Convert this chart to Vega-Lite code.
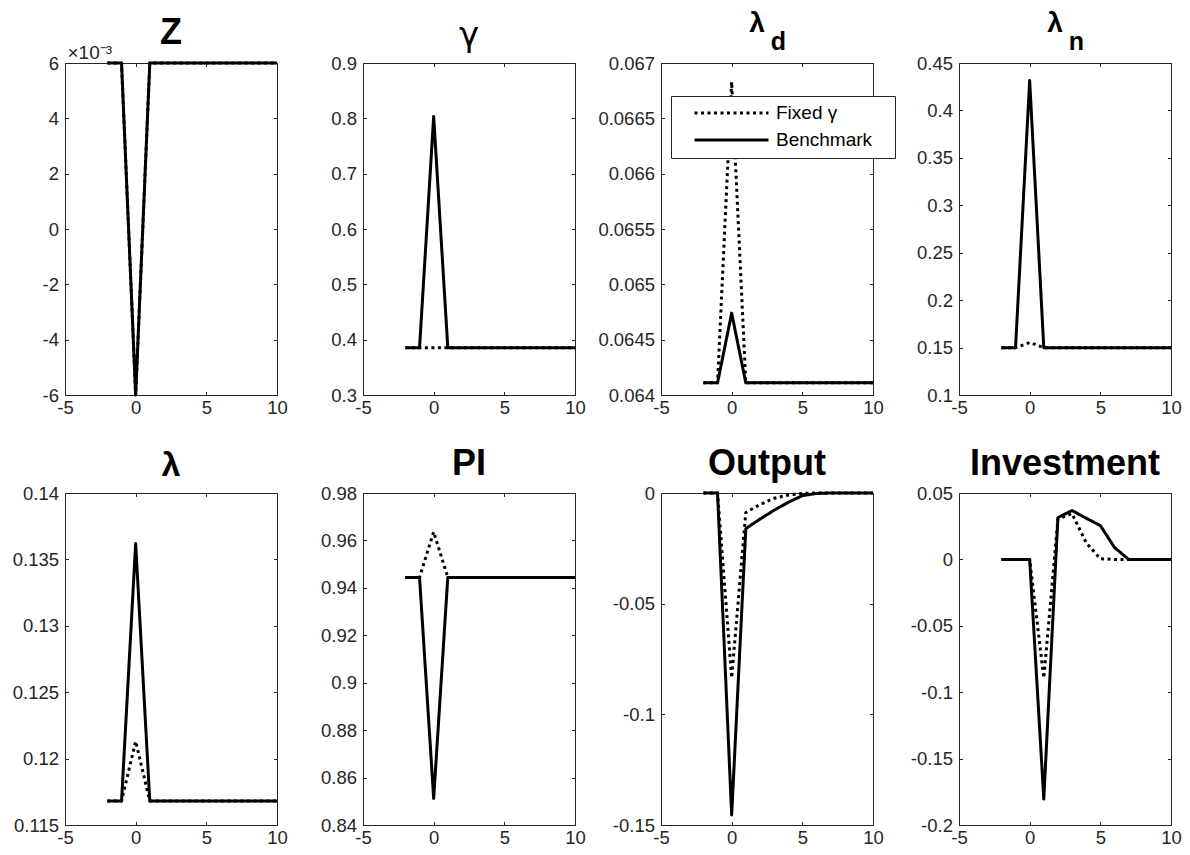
{
  "$schema": "https://vega.github.io/schema/vega-lite/v6.json",
  "padding": {"left": 0, "top": 9, "right": 0, "bottom": 0},
  "datasets": {
    "irf": [
      {"p":"Z","s":"Fixed γ","t":-2,"v":0.006},{"p":"Z","s":"Fixed γ","t":-1,"v":0.006},{"p":"Z","s":"Fixed γ","t":0,"v":-0.006},{"p":"Z","s":"Fixed γ","t":1,"v":0.006},{"p":"Z","s":"Fixed γ","t":2,"v":0.006},{"p":"Z","s":"Fixed γ","t":3,"v":0.006},{"p":"Z","s":"Fixed γ","t":4,"v":0.006},{"p":"Z","s":"Fixed γ","t":5,"v":0.006},{"p":"Z","s":"Fixed γ","t":6,"v":0.006},{"p":"Z","s":"Fixed γ","t":7,"v":0.006},{"p":"Z","s":"Fixed γ","t":8,"v":0.006},{"p":"Z","s":"Fixed γ","t":9,"v":0.006},{"p":"Z","s":"Fixed γ","t":10,"v":0.006},
      {"p":"Z","s":"Benchmark","t":-2,"v":0.006},{"p":"Z","s":"Benchmark","t":-1,"v":0.006},{"p":"Z","s":"Benchmark","t":0,"v":-0.006},{"p":"Z","s":"Benchmark","t":1,"v":0.006},{"p":"Z","s":"Benchmark","t":2,"v":0.006},{"p":"Z","s":"Benchmark","t":3,"v":0.006},{"p":"Z","s":"Benchmark","t":4,"v":0.006},{"p":"Z","s":"Benchmark","t":5,"v":0.006},{"p":"Z","s":"Benchmark","t":6,"v":0.006},{"p":"Z","s":"Benchmark","t":7,"v":0.006},{"p":"Z","s":"Benchmark","t":8,"v":0.006},{"p":"Z","s":"Benchmark","t":9,"v":0.006},{"p":"Z","s":"Benchmark","t":10,"v":0.006},
      {"p":"gamma","s":"Fixed γ","t":-2,"v":0.3855},{"p":"gamma","s":"Fixed γ","t":-1,"v":0.3855},{"p":"gamma","s":"Fixed γ","t":0,"v":0.3855},{"p":"gamma","s":"Fixed γ","t":1,"v":0.3855},{"p":"gamma","s":"Fixed γ","t":2,"v":0.3855},{"p":"gamma","s":"Fixed γ","t":3,"v":0.3855},{"p":"gamma","s":"Fixed γ","t":4,"v":0.3855},{"p":"gamma","s":"Fixed γ","t":5,"v":0.3855},{"p":"gamma","s":"Fixed γ","t":6,"v":0.3855},{"p":"gamma","s":"Fixed γ","t":7,"v":0.3855},{"p":"gamma","s":"Fixed γ","t":8,"v":0.3855},{"p":"gamma","s":"Fixed γ","t":9,"v":0.3855},{"p":"gamma","s":"Fixed γ","t":10,"v":0.3855},
      {"p":"gamma","s":"Benchmark","t":-2,"v":0.3855},{"p":"gamma","s":"Benchmark","t":-1,"v":0.3855},{"p":"gamma","s":"Benchmark","t":0,"v":0.8035},{"p":"gamma","s":"Benchmark","t":1,"v":0.3855},{"p":"gamma","s":"Benchmark","t":2,"v":0.3855},{"p":"gamma","s":"Benchmark","t":3,"v":0.3855},{"p":"gamma","s":"Benchmark","t":4,"v":0.3855},{"p":"gamma","s":"Benchmark","t":5,"v":0.3855},{"p":"gamma","s":"Benchmark","t":6,"v":0.3855},{"p":"gamma","s":"Benchmark","t":7,"v":0.3855},{"p":"gamma","s":"Benchmark","t":8,"v":0.3855},{"p":"gamma","s":"Benchmark","t":9,"v":0.3855},{"p":"gamma","s":"Benchmark","t":10,"v":0.3855},
      {"p":"ld","s":"Fixed γ","t":-2,"v":0.06411},{"p":"ld","s":"Fixed γ","t":-1,"v":0.06411},{"p":"ld","s":"Fixed γ","t":0,"v":0.06683},{"p":"ld","s":"Fixed γ","t":1,"v":0.06411},{"p":"ld","s":"Fixed γ","t":2,"v":0.06411},{"p":"ld","s":"Fixed γ","t":3,"v":0.06411},{"p":"ld","s":"Fixed γ","t":4,"v":0.06411},{"p":"ld","s":"Fixed γ","t":5,"v":0.06411},{"p":"ld","s":"Fixed γ","t":6,"v":0.06411},{"p":"ld","s":"Fixed γ","t":7,"v":0.06411},{"p":"ld","s":"Fixed γ","t":8,"v":0.06411},{"p":"ld","s":"Fixed γ","t":9,"v":0.06411},{"p":"ld","s":"Fixed γ","t":10,"v":0.06411},
      {"p":"ld","s":"Benchmark","t":-2,"v":0.06411},{"p":"ld","s":"Benchmark","t":-1,"v":0.06411},{"p":"ld","s":"Benchmark","t":0,"v":0.06474},{"p":"ld","s":"Benchmark","t":1,"v":0.06411},{"p":"ld","s":"Benchmark","t":2,"v":0.06411},{"p":"ld","s":"Benchmark","t":3,"v":0.06411},{"p":"ld","s":"Benchmark","t":4,"v":0.06411},{"p":"ld","s":"Benchmark","t":5,"v":0.06411},{"p":"ld","s":"Benchmark","t":6,"v":0.06411},{"p":"ld","s":"Benchmark","t":7,"v":0.06411},{"p":"ld","s":"Benchmark","t":8,"v":0.06411},{"p":"ld","s":"Benchmark","t":9,"v":0.06411},{"p":"ld","s":"Benchmark","t":10,"v":0.06411},
      {"p":"ln","s":"Fixed γ","t":-2,"v":0.1499},{"p":"ln","s":"Fixed γ","t":-1,"v":0.1499},{"p":"ln","s":"Fixed γ","t":0,"v":0.1553},{"p":"ln","s":"Fixed γ","t":1,"v":0.1499},{"p":"ln","s":"Fixed γ","t":2,"v":0.1499},{"p":"ln","s":"Fixed γ","t":3,"v":0.1499},{"p":"ln","s":"Fixed γ","t":4,"v":0.1499},{"p":"ln","s":"Fixed γ","t":5,"v":0.1499},{"p":"ln","s":"Fixed γ","t":6,"v":0.1499},{"p":"ln","s":"Fixed γ","t":7,"v":0.1499},{"p":"ln","s":"Fixed γ","t":8,"v":0.1499},{"p":"ln","s":"Fixed γ","t":9,"v":0.1499},{"p":"ln","s":"Fixed γ","t":10,"v":0.1499},
      {"p":"ln","s":"Benchmark","t":-2,"v":0.1499},{"p":"ln","s":"Benchmark","t":-1,"v":0.1499},{"p":"ln","s":"Benchmark","t":0,"v":0.4315},{"p":"ln","s":"Benchmark","t":1,"v":0.1499},{"p":"ln","s":"Benchmark","t":2,"v":0.1499},{"p":"ln","s":"Benchmark","t":3,"v":0.1499},{"p":"ln","s":"Benchmark","t":4,"v":0.1499},{"p":"ln","s":"Benchmark","t":5,"v":0.1499},{"p":"ln","s":"Benchmark","t":6,"v":0.1499},{"p":"ln","s":"Benchmark","t":7,"v":0.1499},{"p":"ln","s":"Benchmark","t":8,"v":0.1499},{"p":"ln","s":"Benchmark","t":9,"v":0.1499},{"p":"ln","s":"Benchmark","t":10,"v":0.1499},
      {"p":"l","s":"Fixed γ","t":-2,"v":0.1168},{"p":"l","s":"Fixed γ","t":-1,"v":0.1168},{"p":"l","s":"Fixed γ","t":0,"v":0.1213},{"p":"l","s":"Fixed γ","t":1,"v":0.1168},{"p":"l","s":"Fixed γ","t":2,"v":0.1168},{"p":"l","s":"Fixed γ","t":3,"v":0.1168},{"p":"l","s":"Fixed γ","t":4,"v":0.1168},{"p":"l","s":"Fixed γ","t":5,"v":0.1168},{"p":"l","s":"Fixed γ","t":6,"v":0.1168},{"p":"l","s":"Fixed γ","t":7,"v":0.1168},{"p":"l","s":"Fixed γ","t":8,"v":0.1168},{"p":"l","s":"Fixed γ","t":9,"v":0.1168},{"p":"l","s":"Fixed γ","t":10,"v":0.1168},
      {"p":"l","s":"Benchmark","t":-2,"v":0.1168},{"p":"l","s":"Benchmark","t":-1,"v":0.1168},{"p":"l","s":"Benchmark","t":0,"v":0.1362},{"p":"l","s":"Benchmark","t":1,"v":0.1168},{"p":"l","s":"Benchmark","t":2,"v":0.1168},{"p":"l","s":"Benchmark","t":3,"v":0.1168},{"p":"l","s":"Benchmark","t":4,"v":0.1168},{"p":"l","s":"Benchmark","t":5,"v":0.1168},{"p":"l","s":"Benchmark","t":6,"v":0.1168},{"p":"l","s":"Benchmark","t":7,"v":0.1168},{"p":"l","s":"Benchmark","t":8,"v":0.1168},{"p":"l","s":"Benchmark","t":9,"v":0.1168},{"p":"l","s":"Benchmark","t":10,"v":0.1168},
      {"p":"PI","s":"Fixed γ","t":-2,"v":0.9444},{"p":"PI","s":"Fixed γ","t":-1,"v":0.9444},{"p":"PI","s":"Fixed γ","t":0,"v":0.9636},{"p":"PI","s":"Fixed γ","t":1,"v":0.9444},{"p":"PI","s":"Fixed γ","t":2,"v":0.9444},{"p":"PI","s":"Fixed γ","t":3,"v":0.9444},{"p":"PI","s":"Fixed γ","t":4,"v":0.9444},{"p":"PI","s":"Fixed γ","t":5,"v":0.9444},{"p":"PI","s":"Fixed γ","t":6,"v":0.9444},{"p":"PI","s":"Fixed γ","t":7,"v":0.9444},{"p":"PI","s":"Fixed γ","t":8,"v":0.9444},{"p":"PI","s":"Fixed γ","t":9,"v":0.9444},{"p":"PI","s":"Fixed γ","t":10,"v":0.9444},
      {"p":"PI","s":"Benchmark","t":-2,"v":0.9444},{"p":"PI","s":"Benchmark","t":-1,"v":0.9444},{"p":"PI","s":"Benchmark","t":0,"v":0.8512},{"p":"PI","s":"Benchmark","t":1,"v":0.9444},{"p":"PI","s":"Benchmark","t":2,"v":0.9444},{"p":"PI","s":"Benchmark","t":3,"v":0.9444},{"p":"PI","s":"Benchmark","t":4,"v":0.9444},{"p":"PI","s":"Benchmark","t":5,"v":0.9444},{"p":"PI","s":"Benchmark","t":6,"v":0.9444},{"p":"PI","s":"Benchmark","t":7,"v":0.9444},{"p":"PI","s":"Benchmark","t":8,"v":0.9444},{"p":"PI","s":"Benchmark","t":9,"v":0.9444},{"p":"PI","s":"Benchmark","t":10,"v":0.9444},
      {"p":"Y","s":"Fixed γ","t":-2,"v":0},{"p":"Y","s":"Fixed γ","t":-1,"v":0},{"p":"Y","s":"Fixed γ","t":0,"v":-0.0835},{"p":"Y","s":"Fixed γ","t":1,"v":-0.0088},{"p":"Y","s":"Fixed γ","t":2,"v":-0.0052},{"p":"Y","s":"Fixed γ","t":3,"v":-0.0024},{"p":"Y","s":"Fixed γ","t":4,"v":-0.0009},{"p":"Y","s":"Fixed γ","t":5,"v":-0.0002},{"p":"Y","s":"Fixed γ","t":6,"v":0},{"p":"Y","s":"Fixed γ","t":7,"v":0},{"p":"Y","s":"Fixed γ","t":8,"v":0},{"p":"Y","s":"Fixed γ","t":9,"v":0},{"p":"Y","s":"Fixed γ","t":10,"v":0},
      {"p":"Y","s":"Benchmark","t":-2,"v":0},{"p":"Y","s":"Benchmark","t":-1,"v":0},{"p":"Y","s":"Benchmark","t":0,"v":-0.1455},{"p":"Y","s":"Benchmark","t":1,"v":-0.0161},{"p":"Y","s":"Benchmark","t":2,"v":-0.0118},{"p":"Y","s":"Benchmark","t":3,"v":-0.0078},{"p":"Y","s":"Benchmark","t":4,"v":-0.0042},{"p":"Y","s":"Benchmark","t":5,"v":-0.0012},{"p":"Y","s":"Benchmark","t":6,"v":-0.0002},{"p":"Y","s":"Benchmark","t":7,"v":0},{"p":"Y","s":"Benchmark","t":8,"v":0},{"p":"Y","s":"Benchmark","t":9,"v":0},{"p":"Y","s":"Benchmark","t":10,"v":0},
      {"p":"I","s":"Fixed γ","t":-2,"v":0},{"p":"I","s":"Fixed γ","t":-1,"v":0},{"p":"I","s":"Fixed γ","t":0,"v":0},{"p":"I","s":"Fixed γ","t":1,"v":-0.0893},{"p":"I","s":"Fixed γ","t":2,"v":0.0305},{"p":"I","s":"Fixed γ","t":3,"v":0.0345},{"p":"I","s":"Fixed γ","t":4,"v":0.0125},{"p":"I","s":"Fixed γ","t":5,"v":0.0005},{"p":"I","s":"Fixed γ","t":6,"v":0},{"p":"I","s":"Fixed γ","t":7,"v":0},{"p":"I","s":"Fixed γ","t":8,"v":0},{"p":"I","s":"Fixed γ","t":9,"v":0},{"p":"I","s":"Fixed γ","t":10,"v":0},
      {"p":"I","s":"Benchmark","t":-2,"v":0},{"p":"I","s":"Benchmark","t":-1,"v":0},{"p":"I","s":"Benchmark","t":0,"v":0},{"p":"I","s":"Benchmark","t":1,"v":-0.1805},{"p":"I","s":"Benchmark","t":2,"v":0.0315},{"p":"I","s":"Benchmark","t":3,"v":0.0368},{"p":"I","s":"Benchmark","t":4,"v":0.031},{"p":"I","s":"Benchmark","t":5,"v":0.0255},{"p":"I","s":"Benchmark","t":6,"v":0.009},{"p":"I","s":"Benchmark","t":7,"v":0},{"p":"I","s":"Benchmark","t":8,"v":0},{"p":"I","s":"Benchmark","t":9,"v":0},{"p":"I","s":"Benchmark","t":10,"v":0}
    ]
  },
  "spacing": 27,
  "vconcat": [
    {
      "spacing": 10,
      "hconcat": [
        {
          "width": 212, "height": 332,
          "title": {"text": "Z", "dy": 10},
          "data": {"name": "irf"},
          "transform": [{"filter": "datum.p == 'Z'"}],
          "layer": [
            {"transform": [{"filter": "datum.s == 'Fixed γ'"}], "mark": {"type": "line"},
             "encoding": {
               "x": {"field": "t", "type": "quantitative", "scale": {"domain": [-5, 10], "nice": false}, "axis": {"orient": "bottom", "values": [-5, 0, 5, 10], "labelExpr": "'' + datum.value", "title": null}},
               "y": {"field": "v", "type": "quantitative", "scale": {"domain": [-0.006, 0.006], "nice": false}, "axis": {"orient": "left", "values": [-0.006, -0.004, -0.002, 0, 0.002, 0.004, 0.006], "labelExpr": "'' + round(datum.value*1000)", "title": "×10⁻³", "titleAngle": 0, "titleX": 2, "titleY": -5, "titleAlign": "left", "titleBaseline": "alphabetic", "titleFontSize": 19, "titleFontWeight": "normal", "titleColor": "#262626", "titleFont": "Liberation Sans"}},
               "strokeDash": {"field": "s", "type": "nominal", "scale": {"domain": ["Fixed γ", "Benchmark"], "range": [[3, 3.5], [1, 0]]}, "title": null, "legend": {"labelExpr": "datum.label + '\u2800'"}}
             }},
            {"transform": [{"filter": "datum.s == 'Benchmark'"}], "mark": {"type": "line"},
             "encoding": {
               "x": {"field": "t", "type": "quantitative", "scale": {"domain": [-5, 10], "nice": false}, "axis": null},
               "y": {"field": "v", "type": "quantitative", "scale": {"domain": [-0.006, 0.006], "nice": false}, "axis": null},
               "strokeDash": {"field": "s", "type": "nominal", "scale": {"domain": ["Fixed γ", "Benchmark"], "range": [[3, 3.5], [1, 0]]}, "title": null, "legend": {"labelExpr": "datum.label + '\u2800'"}}
             }},
            {"mark": {"type": "point", "opacity": 0},
             "encoding": {
               "x": {"field": "t", "type": "quantitative", "scale": {"domain": [-5, 10], "nice": false}, "axis": {"orient": "top", "values": [-5, 0, 5, 10], "labels": false, "title": null}},
               "y": {"field": "v", "type": "quantitative", "scale": {"domain": [-0.006, 0.006], "nice": false}, "axis": {"orient": "right", "values": [-0.006, -0.004, -0.002, 0, 0.002, 0.004, 0.006], "labels": false, "title": null}}
             }}
          ],
          "resolve": {"axis": {"x": "independent", "y": "independent"}}
        },
        {
          "width": 212, "height": 332,
          "title": {"text": "γ", "fontWeight": "normal", "fontSize": 34, "font": "DejaVu Sans"},
          "data": {"name": "irf"},
          "transform": [{"filter": "datum.p == 'gamma'"}],
          "layer": [
            {"transform": [{"filter": "datum.s == 'Fixed γ'"}], "mark": {"type": "line"},
             "encoding": {
               "x": {"field": "t", "type": "quantitative", "scale": {"domain": [-5, 10], "nice": false}, "axis": {"orient": "bottom", "values": [-5, 0, 5, 10], "labelExpr": "'' + datum.value", "title": null}},
               "y": {"field": "v", "type": "quantitative", "scale": {"domain": [0.3, 0.9], "nice": false}, "axis": {"orient": "left", "values": [0.3, 0.4, 0.5, 0.6, 0.7, 0.8, 0.9], "labelExpr": "'' + datum.value", "title": null}},
               "strokeDash": {"field": "s", "type": "nominal", "scale": {"domain": ["Fixed γ", "Benchmark"], "range": [[3, 3.5], [1, 0]]}, "title": null, "legend": {"labelExpr": "datum.label + '\u2800'"}}
             }},
            {"transform": [{"filter": "datum.s == 'Benchmark'"}], "mark": {"type": "line"},
             "encoding": {
               "x": {"field": "t", "type": "quantitative", "scale": {"domain": [-5, 10], "nice": false}, "axis": null},
               "y": {"field": "v", "type": "quantitative", "scale": {"domain": [0.3, 0.9], "nice": false}, "axis": null},
               "strokeDash": {"field": "s", "type": "nominal", "scale": {"domain": ["Fixed γ", "Benchmark"], "range": [[3, 3.5], [1, 0]]}, "title": null, "legend": {"labelExpr": "datum.label + '\u2800'"}}
             }},
            {"mark": {"type": "point", "opacity": 0},
             "encoding": {
               "x": {"field": "t", "type": "quantitative", "scale": {"domain": [-5, 10], "nice": false}, "axis": {"orient": "top", "values": [-5, 0, 5, 10], "labels": false, "title": null}},
               "y": {"field": "v", "type": "quantitative", "scale": {"domain": [0.3, 0.9], "nice": false}, "axis": {"orient": "right", "values": [0.3, 0.4, 0.5, 0.6, 0.7, 0.8, 0.9], "labels": false, "title": null}}
             }}
          ],
          "resolve": {"axis": {"x": "independent", "y": "independent"}}
        },
        {
          "width": 212, "height": 332,
          "title": {"text": "λ", "fontSize": 28, "dx": -10, "dy": 10},
          "data": {"name": "irf"},
          "transform": [{"filter": "datum.p == 'ld'"}],
          "layer": [
            {"transform": [{"filter": "datum.s == 'Fixed γ'"}], "mark": {"type": "line"},
             "encoding": {
               "x": {"field": "t", "type": "quantitative", "scale": {"domain": [-5, 10], "nice": false}, "axis": {"orient": "bottom", "values": [-5, 0, 5, 10], "labelExpr": "'' + datum.value", "title": null}},
               "y": {"field": "v", "type": "quantitative", "scale": {"domain": [0.064, 0.067], "nice": false}, "axis": {"orient": "left", "values": [0.064, 0.0645, 0.065, 0.0655, 0.066, 0.0665, 0.067], "labelExpr": "'' + datum.value", "title": null}},
               "strokeDash": {"field": "s", "type": "nominal", "scale": {"domain": ["Fixed γ", "Benchmark"], "range": [[3, 3.5], [1, 0]]}, "title": null, "legend": {"labelExpr": "datum.label + '\u2800'"}}
             }},
            {"transform": [{"filter": "datum.s == 'Benchmark'"}], "mark": {"type": "line"},
             "encoding": {
               "x": {"field": "t", "type": "quantitative", "scale": {"domain": [-5, 10], "nice": false}, "axis": null},
               "y": {"field": "v", "type": "quantitative", "scale": {"domain": [0.064, 0.067], "nice": false}, "axis": null},
               "strokeDash": {"field": "s", "type": "nominal", "scale": {"domain": ["Fixed γ", "Benchmark"], "range": [[3, 3.5], [1, 0]]}, "title": null, "legend": {"labelExpr": "datum.label + '\u2800'"}}
             }},
            {"mark": {"type": "point", "opacity": 0},
             "encoding": {
               "x": {"field": "t", "type": "quantitative", "scale": {"domain": [-5, 10], "nice": false}, "axis": {"orient": "top", "values": [-5, 0, 5, 10], "labels": false, "title": "d", "titleX": 117, "titleY": -14, "titleAlign": "center", "titleBaseline": "alphabetic", "titleAngle": 0, "titleFontSize": 25, "titleFontWeight": "bold", "titleColor": "black", "titleFont": "Liberation Sans"}},
               "y": {"field": "v", "type": "quantitative", "scale": {"domain": [0.064, 0.067], "nice": false}, "axis": {"orient": "right", "values": [0.064, 0.0645, 0.065, 0.0655, 0.066, 0.0665, 0.067], "labels": false, "title": null}}
             }}
          ],
          "resolve": {"axis": {"x": "independent", "y": "independent"}}
        },
        {
          "width": 212, "height": 332,
          "title": {"text": "λ", "fontSize": 28, "dx": -10, "dy": 10},
          "data": {"name": "irf"},
          "transform": [{"filter": "datum.p == 'ln'"}],
          "layer": [
            {"transform": [{"filter": "datum.s == 'Fixed γ'"}], "mark": {"type": "line"},
             "encoding": {
               "x": {"field": "t", "type": "quantitative", "scale": {"domain": [-5, 10], "nice": false}, "axis": {"orient": "bottom", "values": [-5, 0, 5, 10], "labelExpr": "'' + datum.value", "title": null}},
               "y": {"field": "v", "type": "quantitative", "scale": {"domain": [0.1, 0.45], "nice": false}, "axis": {"orient": "left", "values": [0.1, 0.15, 0.2, 0.25, 0.3, 0.35, 0.4, 0.45], "labelExpr": "'' + datum.value", "title": null}},
               "strokeDash": {"field": "s", "type": "nominal", "scale": {"domain": ["Fixed γ", "Benchmark"], "range": [[3, 3.5], [1, 0]]}, "title": null, "legend": {"labelExpr": "datum.label + '\u2800'"}}
             }},
            {"transform": [{"filter": "datum.s == 'Benchmark'"}], "mark": {"type": "line"},
             "encoding": {
               "x": {"field": "t", "type": "quantitative", "scale": {"domain": [-5, 10], "nice": false}, "axis": null},
               "y": {"field": "v", "type": "quantitative", "scale": {"domain": [0.1, 0.45], "nice": false}, "axis": null},
               "strokeDash": {"field": "s", "type": "nominal", "scale": {"domain": ["Fixed γ", "Benchmark"], "range": [[3, 3.5], [1, 0]]}, "title": null, "legend": {"labelExpr": "datum.label + '\u2800'"}}
             }},
            {"mark": {"type": "point", "opacity": 0},
             "encoding": {
               "x": {"field": "t", "type": "quantitative", "scale": {"domain": [-5, 10], "nice": false}, "axis": {"orient": "top", "values": [-5, 0, 5, 10], "labels": false, "title": "n", "titleX": 117, "titleY": -14, "titleAlign": "center", "titleBaseline": "alphabetic", "titleAngle": 0, "titleFontSize": 25, "titleFontWeight": "bold", "titleColor": "black", "titleFont": "Liberation Sans"}},
               "y": {"field": "v", "type": "quantitative", "scale": {"domain": [0.1, 0.45], "nice": false}, "axis": {"orient": "right", "values": [0.1, 0.15, 0.2, 0.25, 0.3, 0.35, 0.4, 0.45], "labels": false, "title": null}}
             }}
          ],
          "resolve": {"axis": {"x": "independent", "y": "independent"}}
        }
      ]
    },
    {
      "spacing": 10,
      "hconcat": [
        {
          "width": 212, "height": 332,
          "title": {"text": "λ", "fontSize": 34},
          "data": {"name": "irf"},
          "transform": [{"filter": "datum.p == 'l'"}],
          "layer": [
            {"transform": [{"filter": "datum.s == 'Fixed γ'"}], "mark": {"type": "line"},
             "encoding": {
               "x": {"field": "t", "type": "quantitative", "scale": {"domain": [-5, 10], "nice": false}, "axis": {"orient": "bottom", "values": [-5, 0, 5, 10], "labelExpr": "'' + datum.value", "title": null}},
               "y": {"field": "v", "type": "quantitative", "scale": {"domain": [0.115, 0.14], "nice": false}, "axis": {"orient": "left", "values": [0.115, 0.12, 0.125, 0.13, 0.135, 0.14], "labelExpr": "'' + datum.value", "title": null}},
               "strokeDash": {"field": "s", "type": "nominal", "scale": {"domain": ["Fixed γ", "Benchmark"], "range": [[3, 3.5], [1, 0]]}, "title": null, "legend": {"labelExpr": "datum.label + '\u2800'"}}
             }},
            {"transform": [{"filter": "datum.s == 'Benchmark'"}], "mark": {"type": "line"},
             "encoding": {
               "x": {"field": "t", "type": "quantitative", "scale": {"domain": [-5, 10], "nice": false}, "axis": null},
               "y": {"field": "v", "type": "quantitative", "scale": {"domain": [0.115, 0.14], "nice": false}, "axis": null},
               "strokeDash": {"field": "s", "type": "nominal", "scale": {"domain": ["Fixed γ", "Benchmark"], "range": [[3, 3.5], [1, 0]]}, "title": null, "legend": {"labelExpr": "datum.label + '\u2800'"}}
             }},
            {"mark": {"type": "point", "opacity": 0},
             "encoding": {
               "x": {"field": "t", "type": "quantitative", "scale": {"domain": [-5, 10], "nice": false}, "axis": {"orient": "top", "values": [-5, 0, 5, 10], "labels": false, "title": null}},
               "y": {"field": "v", "type": "quantitative", "scale": {"domain": [0.115, 0.14], "nice": false}, "axis": {"orient": "right", "values": [0.115, 0.12, 0.125, 0.13, 0.135, 0.14], "labels": false, "title": null}}
             }}
          ],
          "resolve": {"axis": {"x": "independent", "y": "independent"}}
        },
        {
          "width": 212, "height": 332,
          "title": {"text": "PI"},
          "data": {"name": "irf"},
          "transform": [{"filter": "datum.p == 'PI'"}],
          "layer": [
            {"transform": [{"filter": "datum.s == 'Fixed γ'"}], "mark": {"type": "line"},
             "encoding": {
               "x": {"field": "t", "type": "quantitative", "scale": {"domain": [-5, 10], "nice": false}, "axis": {"orient": "bottom", "values": [-5, 0, 5, 10], "labelExpr": "'' + datum.value", "title": null}},
               "y": {"field": "v", "type": "quantitative", "scale": {"domain": [0.84, 0.98], "nice": false}, "axis": {"orient": "left", "values": [0.84, 0.86, 0.88, 0.9, 0.92, 0.94, 0.96, 0.98], "labelExpr": "'' + datum.value", "title": null}},
               "strokeDash": {"field": "s", "type": "nominal", "scale": {"domain": ["Fixed γ", "Benchmark"], "range": [[3, 3.5], [1, 0]]}, "title": null, "legend": {"labelExpr": "datum.label + '\u2800'"}}
             }},
            {"transform": [{"filter": "datum.s == 'Benchmark'"}], "mark": {"type": "line"},
             "encoding": {
               "x": {"field": "t", "type": "quantitative", "scale": {"domain": [-5, 10], "nice": false}, "axis": null},
               "y": {"field": "v", "type": "quantitative", "scale": {"domain": [0.84, 0.98], "nice": false}, "axis": null},
               "strokeDash": {"field": "s", "type": "nominal", "scale": {"domain": ["Fixed γ", "Benchmark"], "range": [[3, 3.5], [1, 0]]}, "title": null, "legend": {"labelExpr": "datum.label + '\u2800'"}}
             }},
            {"mark": {"type": "point", "opacity": 0},
             "encoding": {
               "x": {"field": "t", "type": "quantitative", "scale": {"domain": [-5, 10], "nice": false}, "axis": {"orient": "top", "values": [-5, 0, 5, 10], "labels": false, "title": null}},
               "y": {"field": "v", "type": "quantitative", "scale": {"domain": [0.84, 0.98], "nice": false}, "axis": {"orient": "right", "values": [0.84, 0.86, 0.88, 0.9, 0.92, 0.94, 0.96, 0.98], "labels": false, "title": null}}
             }}
          ],
          "resolve": {"axis": {"x": "independent", "y": "independent"}}
        },
        {
          "width": 212, "height": 332,
          "title": {"text": "Output"},
          "data": {"name": "irf"},
          "transform": [{"filter": "datum.p == 'Y'"}],
          "layer": [
            {"transform": [{"filter": "datum.s == 'Fixed γ'"}], "mark": {"type": "line"},
             "encoding": {
               "x": {"field": "t", "type": "quantitative", "scale": {"domain": [-5, 10], "nice": false}, "axis": {"orient": "bottom", "values": [-5, 0, 5, 10], "labelExpr": "'' + datum.value", "title": null}},
               "y": {"field": "v", "type": "quantitative", "scale": {"domain": [-0.15, 0], "nice": false}, "axis": {"orient": "left", "values": [-0.15, -0.1, -0.05, 0], "labelExpr": "'' + datum.value", "title": null}},
               "strokeDash": {"field": "s", "type": "nominal", "scale": {"domain": ["Fixed γ", "Benchmark"], "range": [[3, 3.5], [1, 0]]}, "title": null, "legend": {"labelExpr": "datum.label + '\u2800'"}}
             }},
            {"transform": [{"filter": "datum.s == 'Benchmark'"}], "mark": {"type": "line"},
             "encoding": {
               "x": {"field": "t", "type": "quantitative", "scale": {"domain": [-5, 10], "nice": false}, "axis": null},
               "y": {"field": "v", "type": "quantitative", "scale": {"domain": [-0.15, 0], "nice": false}, "axis": null},
               "strokeDash": {"field": "s", "type": "nominal", "scale": {"domain": ["Fixed γ", "Benchmark"], "range": [[3, 3.5], [1, 0]]}, "title": null, "legend": {"labelExpr": "datum.label + '\u2800'"}}
             }},
            {"mark": {"type": "point", "opacity": 0},
             "encoding": {
               "x": {"field": "t", "type": "quantitative", "scale": {"domain": [-5, 10], "nice": false}, "axis": {"orient": "top", "values": [-5, 0, 5, 10], "labels": false, "title": null}},
               "y": {"field": "v", "type": "quantitative", "scale": {"domain": [-0.15, 0], "nice": false}, "axis": {"orient": "right", "values": [-0.15, -0.1, -0.05, 0], "labels": false, "title": null}}
             }}
          ],
          "resolve": {"axis": {"x": "independent", "y": "independent"}}
        },
        {
          "width": 212, "height": 332,
          "title": {"text": "Investment"},
          "data": {"name": "irf"},
          "transform": [{"filter": "datum.p == 'I'"}],
          "layer": [
            {"transform": [{"filter": "datum.s == 'Fixed γ'"}], "mark": {"type": "line"},
             "encoding": {
               "x": {"field": "t", "type": "quantitative", "scale": {"domain": [-5, 10], "nice": false}, "axis": {"orient": "bottom", "values": [-5, 0, 5, 10], "labelExpr": "'' + datum.value", "title": null}},
               "y": {"field": "v", "type": "quantitative", "scale": {"domain": [-0.2, 0.05], "nice": false}, "axis": {"orient": "left", "values": [-0.2, -0.15, -0.1, -0.05, 0, 0.05], "labelExpr": "'' + datum.value", "title": null}},
               "strokeDash": {"field": "s", "type": "nominal", "scale": {"domain": ["Fixed γ", "Benchmark"], "range": [[3, 3.5], [1, 0]]}, "title": null, "legend": {"labelExpr": "datum.label + '\u2800'"}}
             }},
            {"transform": [{"filter": "datum.s == 'Benchmark'"}], "mark": {"type": "line"},
             "encoding": {
               "x": {"field": "t", "type": "quantitative", "scale": {"domain": [-5, 10], "nice": false}, "axis": null},
               "y": {"field": "v", "type": "quantitative", "scale": {"domain": [-0.2, 0.05], "nice": false}, "axis": null},
               "strokeDash": {"field": "s", "type": "nominal", "scale": {"domain": ["Fixed γ", "Benchmark"], "range": [[3, 3.5], [1, 0]]}, "title": null, "legend": {"labelExpr": "datum.label + '\u2800'"}}
             }},
            {"mark": {"type": "point", "opacity": 0},
             "encoding": {
               "x": {"field": "t", "type": "quantitative", "scale": {"domain": [-5, 10], "nice": false}, "axis": {"orient": "top", "values": [-5, 0, 5, 10], "labels": false, "title": null}},
               "y": {"field": "v", "type": "quantitative", "scale": {"domain": [-0.2, 0.05], "nice": false}, "axis": {"orient": "right", "values": [-0.2, -0.15, -0.1, -0.05, 0, 0.05], "labels": false, "title": null}}
             }}
          ],
          "resolve": {"axis": {"x": "independent", "y": "independent"}}
        }
      ]
    }
  ],
  "config": {
    "font": "Liberation Sans",
    "view": {"stroke": "#262626", "strokeWidth": 1},
    "axis": {"grid": false, "domain": false, "ticks": true, "tickSize": -3.5, "tickColor": "#262626", "tickWidth": 1, "labelColor": "#262626", "labelFont": "Liberation Sans", "labelFontSize": 18.5, "labelFlush": false, "labelOverlap": false},
    "axisBottom": {"labelPadding": 7},
    "axisLeft": {"labelPadding": 10, "minExtent": 64},
    "axisTop": {"minExtent": 0, "maxExtent": 0},
    "axisRight": {"minExtent": 0, "maxExtent": 0},
    "title": {"font": "Liberation Sans", "fontSize": 36, "fontWeight": "bold", "color": "black", "frame": "group", "anchor": "middle", "offset": 1},
    "line": {"color": "black", "strokeWidth": 3, "strokeJoin": "round"},
    "legend": {"orient": "none", "legendX": 606, "legendY": 33, "padding": 8, "strokeColor": "#262626", "fillColor": "white", "symbolType": "stroke", "symbolSize": 5476, "symbolStrokeWidth": 3, "symbolStrokeColor": "black", "symbolOffset": 14, "labelOffset": 6, "labelFont": "Liberation Sans", "labelFontSize": 19, "labelColor": "black", "rowPadding": 8, "clipHeight": 18}
  }
}
